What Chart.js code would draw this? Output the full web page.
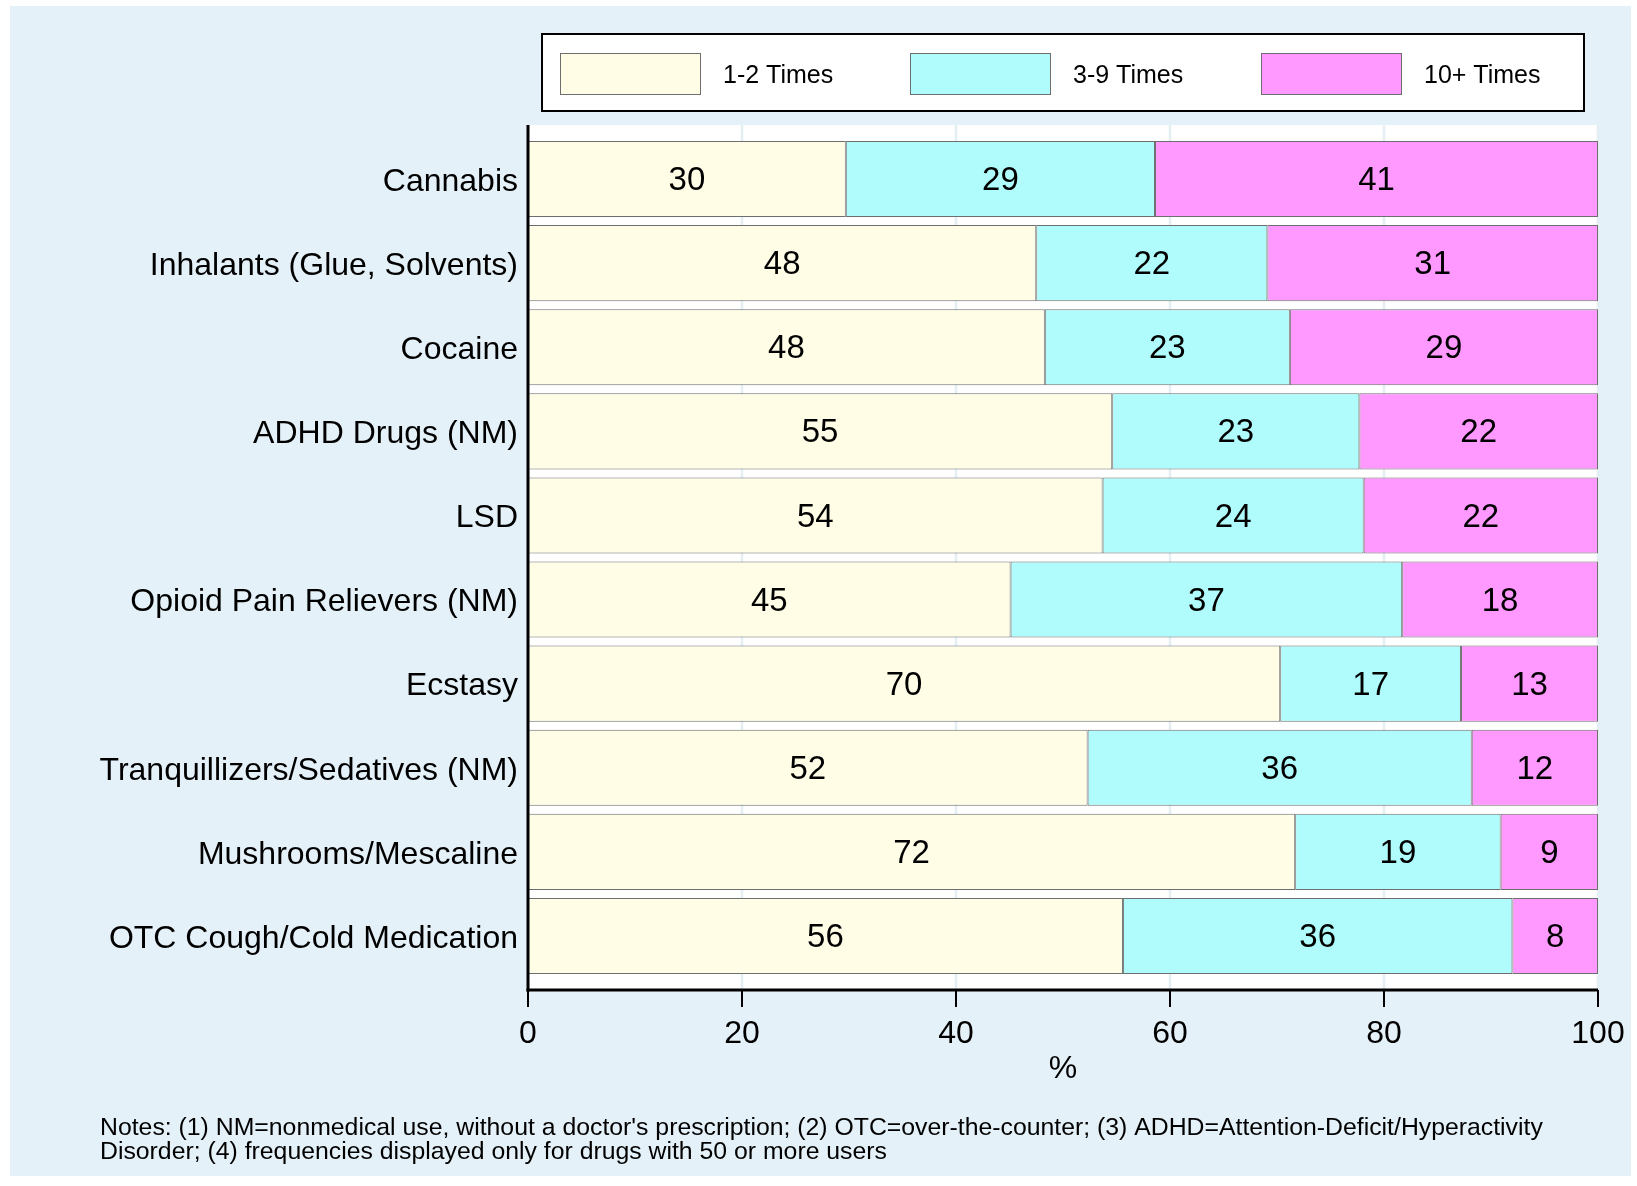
<!DOCTYPE html>
<html>
<head>
<meta charset="utf-8">
<script src="https://cdn.jsdelivr.net/npm/chart.js@4.4.1/dist/chart.umd.min.js"></script>
<style>
  html, body { margin: 0; padding: 0; background: #ffffff; }
  #wrap { width: 1637px; height: 1186px; position: relative; }
</style>
</head>
<body>
<div id="wrap"><canvas id="c" width="1637" height="1186"></canvas></div>
<script>
const categories = [
  "Cannabis",
  "Inhalants (Glue, Solvents)",
  "Cocaine",
  "ADHD Drugs (NM)",
  "LSD",
  "Opioid Pain Relievers (NM)",
  "Ecstasy",
  "Tranquillizers/Sedatives (NM)",
  "Mushrooms/Mescaline",
  "OTC Cough/Cold Medication"
];
const seriesNames = ["1-2 Times", "3-9 Times", "10+ Times"];
const times1to2 = [29.7, 47.5, 48.3, 54.6, 53.7, 45.1, 70.3, 52.3, 71.7, 55.6];
const times3to9 = [28.9, 21.6, 22.9, 23.1, 24.4, 36.6, 16.9, 35.9, 19.2, 36.4];
const times10plus = [41.4, 30.9, 28.8, 22.3, 21.9, 18.3, 12.8, 11.8, 9.1, 8.0];
const xTicks = [0, 20, 40, 60, 80, 100];
const notes = [
  "Notes: (1) NM=nonmedical use, without a doctor's prescription; (2) OTC=over-the-counter; (3) ADHD=Attention-Deficit/Hyperactivity",
  "Disorder; (4) frequencies displayed only for drugs with 50 or more users"
];

const COLORS = ["#fffde6", "#b0fcfc", "#ff99ff"];
const BG = "#e5f1f8";
const FONT = "'Liberation Sans', Arial, Helvetica, sans-serif";
const EXTRA = 12;

const decor = {
  id: "decor",
  beforeDraw(chart) {
    const ctx = chart.ctx;
    const a = chart.chartArea;
    ctx.save();
    ctx.fillStyle = "#ffffff";
    ctx.fillRect(0, 0, chart.width, chart.height);
    ctx.fillStyle = BG;
    ctx.fillRect(10, 6, 1621, 1170);
    ctx.fillStyle = "#ffffff";
    ctx.fillRect(a.left, a.top - EXTRA, a.right - a.left, a.bottom - a.top + 2 * EXTRA);
    const xs = chart.scales.x;
    ctx.strokeStyle = "#e4eef3";
    ctx.lineWidth = 2.5;
    xTicks.forEach(v => {
      if (v === 0) return;
      const px = xs.getPixelForValue(v);
      ctx.beginPath();
      ctx.moveTo(px, a.top - EXTRA);
      ctx.lineTo(px, a.bottom + EXTRA);
      ctx.stroke();
    });
    ctx.restore();
  },
  afterDatasetsDraw(chart) {
    const ctx = chart.ctx;
    ctx.save();
    ctx.fillStyle = "#000000";
    ctx.font = "33px " + FONT;
    ctx.textAlign = "center";
    ctx.textBaseline = "middle";
    chart.data.datasets.forEach((ds, di) => {
      const meta = chart.getDatasetMeta(di);
      meta.data.forEach((el, i) => {
        const p = el.getProps(["x", "y", "base"], true);
        const cx = (p.x + p.base) / 2;
        ctx.fillText(String(Math.round(ds.data[i])), cx, p.y + 2);
      });
    });
    ctx.restore();
  },
  afterDraw(chart) {
    const ctx = chart.ctx;
    const a = chart.chartArea;
    const xs = chart.scales.x;
    const ys = chart.scales.y;
    ctx.save();
    // category labels
    ctx.fillStyle = "#000000";
    ctx.font = "32px " + FONT;
    ctx.textAlign = "right";
    ctx.textBaseline = "middle";
    chart.data.labels.forEach((lab, i) => {
      ctx.fillText(lab, a.left - 10, ys.getPixelForTick(i) + 3);
    });
    // axes
    ctx.strokeStyle = "#000000";
    ctx.lineWidth = 3;
    ctx.beginPath();
    ctx.moveTo(a.left, a.top - EXTRA);
    ctx.lineTo(a.left, a.bottom + EXTRA + 1.5);
    ctx.stroke();
    ctx.beginPath();
    ctx.moveTo(a.left - 1.5, a.bottom + EXTRA);
    ctx.lineTo(a.right, a.bottom + EXTRA);
    ctx.stroke();
    ctx.lineWidth = 2;
    xTicks.forEach(v => {
      const px = xs.getPixelForValue(v);
      ctx.beginPath();
      ctx.moveTo(px, a.bottom + EXTRA);
      ctx.lineTo(px, a.bottom + EXTRA + 17);
      ctx.stroke();
    });
    // legend
    const lx = 542, ly = 34, lw = 1042, lh = 77;
    ctx.fillStyle = "#ffffff";
    ctx.fillRect(lx, ly, lw, lh);
    ctx.strokeStyle = "#000000";
    ctx.lineWidth = 2;
    ctx.strokeRect(lx, ly, lw, lh);
    const swX = [560, 910, 1261];
    ctx.font = "25px " + FONT;
    ctx.textBaseline = "middle";
    ctx.textAlign = "left";
    chart.data.datasets.forEach((ds, i) => {
      ctx.fillStyle = ds.backgroundColor;
      ctx.fillRect(swX[i], 53, 140, 41);
      ctx.strokeStyle = "#6e6e6e";
      ctx.lineWidth = 1;
      ctx.strokeRect(swX[i] + 0.5, 53.5, 140, 41);
      ctx.fillStyle = "#000000";
      ctx.fillText(ds.label, swX[i] + 163, 76);
    });
    // notes
    ctx.font = "24.8px " + FONT;
    ctx.fillStyle = "#000000";
    ctx.fillText(notes[0], 100, 1128);
    ctx.fillText(notes[1], 100, 1152);
    ctx.restore();
  }
};

const datasets = [times1to2, times3to9, times10plus].map((arr, i) => ({
  label: seriesNames[i],
  data: arr,
  backgroundColor: COLORS[i],
  borderColor: "#6e6e6e",
  borderWidth: 1,
  borderSkipped: false,
  barPercentage: 0.905,
  categoryPercentage: 1.0
}));

new Chart(document.getElementById("c"), {
  type: "bar",
  data: { labels: categories, datasets },
  options: {
    indexAxis: "y",
    responsive: false,
    animation: false,
    devicePixelRatio: 1,
    layout: { padding: { left: 0, right: 39, top: 137, bottom: 98 } },
    plugins: { legend: { display: false }, tooltip: { enabled: false } },
    scales: {
      x: {
        type: "linear",
        stacked: true,
        min: 0,
        max: 100,
        afterBuildTicks(scale) { scale.ticks = xTicks.map(v => ({ value: v })); },
        afterFit(scale) { scale.height = 110; scale.paddingLeft = 0; scale.paddingRight = 0; },
        grid: { display: false, drawTicks: false },
        border: { display: false },
        ticks: { color: "#000000", font: { family: FONT, size: 32 }, padding: 37, maxRotation: 0 },
        title: { display: true, text: "%", color: "#000000", font: { family: FONT, size: 32 }, padding: { top: 0, bottom: 0 } }
      },
      y: {
        stacked: true,
        afterFit(scale) { scale.width = 528; },
        grid: { display: false, drawTicks: false },
        border: { display: false },
        ticks: { display: false }
      }
    }
  },
  plugins: [decor]
});
</script>
</body>
</html>
